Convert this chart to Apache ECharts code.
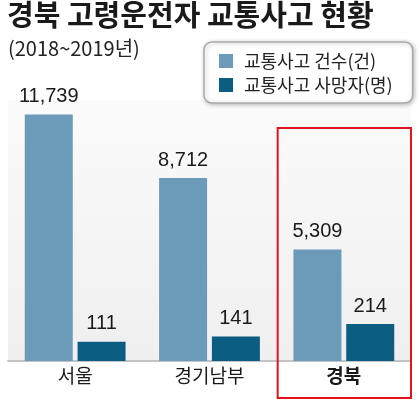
<!DOCTYPE html>
<html><head><meta charset="utf-8">
<script src="https://cdn.jsdelivr.net/npm/echarts@6/dist/echarts.min.js"></script>
<style>html,body{margin:0;padding:0;background:#fff}#c{width:420px;height:400px}</style>
</head><body><div id="c"></div>
<script>
const categories = ['서울', '경기남부', '경북'];
const accidents = [11739, 8712, 5309];
const deaths = [111, 141, 214];
const seriesNames = ['교통사고 건수(건)', '교통사고 사망자(명)'];
const titleText = '경북 고령운전자 교통사고 현황';
const subtitleText = '(2018~2019년)';
const highlight = '경북';

const KR = '"Noto Sans CJK KR", sans-serif';
const NUM = '"Liberation Sans", sans-serif';
const chart = echarts.init(document.getElementById('c'), null, {renderer: 'canvas'});
const fmt = p => p.value.toLocaleString('en-US');
chart.setOption({
  animation: false,
  backgroundColor: '#fff',
  title: [
    {text: titleText, left: 2, top: -5, textStyle: {fontFamily: KR, fontSize: 29, fontWeight: 'bold', color: '#1a1a1a'}},
    {text: subtitleText, left: 3, top: 33, textStyle: {fontFamily: KR, fontSize: 20, fontWeight: 'normal', color: '#222'}}
  ],
  legend: {
    orient: 'vertical', left: 204, top: 42,
    padding: [10, 20, 9, 15], itemGap: 6,
    itemWidth: 14, itemHeight: 14, icon: 'rect',
    backgroundColor: '#fff', borderColor: '#aaa', borderWidth: 1.5, borderRadius: 8,
    shadowBlur: 4, shadowColor: 'rgba(0,0,0,0.25)', shadowOffsetX: 1, shadowOffsetY: 1,
    textStyle: {fontFamily: KR, fontSize: 18, color: '#222', padding: [0, 0, 0, 6]},
    data: seriesNames
  },
  grid: {
    left: 8, right: 9, top: 100, bottom: 39, show: true, borderWidth: 0,
    backgroundColor: {type: 'linear', x: 0, y: 0, x2: 0, y2: 1, colorStops: [
      {offset: 0, color: '#fbfbfb'}, {offset: 1, color: '#efefef'}]}
  },
  xAxis: {
    type: 'category', data: categories,
    axisLine: {show: true, lineStyle: {color: '#c4c4c4', width: 2}},
    axisTick: {show: false},
    axisLabel: {
      fontFamily: KR, fontSize: 19, color: '#1a1a1a', margin: 5,
      formatter: v => v === highlight ? '{b|' + v + '}' : v,
      rich: {b: {fontFamily: KR, fontSize: 19, fontWeight: 'bold', color: '#1a1a1a'}}
    }
  },
  yAxis: [
    {type: 'value', min: 0, max: 12430, show: false, splitLine: {show: false}},
    {type: 'value', min: 0, max: 1509, show: false, splitLine: {show: false}}
  ],
  series: [
    {name: seriesNames[0], type: 'bar', data: accidents, yAxisIndex: 0, barWidth: 48, barGap: '10%',
      itemStyle: {color: '#6b9bb9'},
      label: {show: true, position: 'top', distance: 8, formatter: fmt, fontFamily: NUM, fontSize: 20, color: '#1a1a1a'}},
    {name: seriesNames[1], type: 'bar', data: deaths, yAxisIndex: 1, barWidth: 48, barGap: '10%',
      itemStyle: {color: '#0b5d82'},
      label: {show: true, position: 'top', distance: 8, formatter: fmt, fontFamily: NUM, fontSize: 20, color: '#1a1a1a'}}
  ]
});
const cx = chart.convertToPixel({xAxisIndex: 0}, highlight);
const band = (420 - 8 - 9) / categories.length;
chart.setOption({graphic: [{type: 'rect', z: 100, shape: {x: cx - band / 2 + 1, y: 128, width: band - 1, height: 270},
  style: {fill: 'none', stroke: '#e3131b', lineWidth: 2}}]});
</script></body></html>
